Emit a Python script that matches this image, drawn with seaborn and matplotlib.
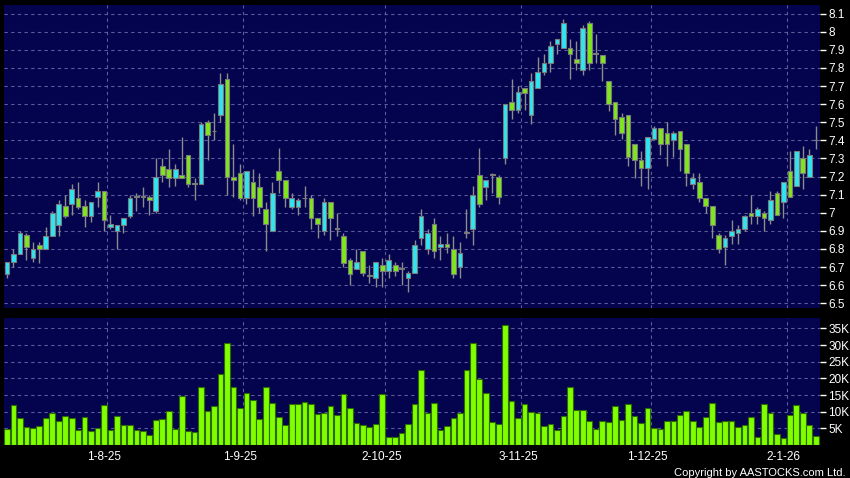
import matplotlib
matplotlib.use("Agg")
import matplotlib.pyplot as plt
import seaborn as sns
import numpy as np

# daily OHLC, 126 trading days (Jul 2025 - Jan 2026)
opens = [6.66, 6.73, 6.77, 6.88, 6.75, 6.82, 6.80, 6.87, 6.93, 7.04,
         7.05, 7.08, 7.04, 6.98, 7.09, 7.12, 6.92, 6.90, 6.93, 6.98,
         7.09, 7.09, 7.09, 7.01, 7.26, 7.24, 7.19, 7.21, 7.32, 7.16,
         7.16, 7.50, 7.45, 7.54, 7.74, 7.20, 7.22, 7.08, 7.17, 7.14,
         7.02, 6.90, 7.23, 7.18, 7.03, 7.03, 7.08, 7.08, 6.97, 6.90,
         7.06, 6.91, 6.87, 6.74, 6.69, 6.79, 6.65, 6.64, 6.71, 6.68,
         6.71, 6.69, 6.64, 6.67, 6.86, 6.80, 6.94, 6.81, 6.83, 6.80,
         6.70, 6.89, 6.91, 7.21, 7.14, 7.21, 7.20, 7.30, 7.61, 7.57,
         7.69, 7.54, 7.69, 7.78, 7.83, 7.93, 7.91, 7.91, 7.85, 7.79,
         8.05, 7.88, 7.87, 7.73, 7.61, 7.53, 7.54, 7.38, 7.29, 7.25,
         7.41, 7.47, 7.44, 7.40, 7.45, 7.38, 7.16, 7.17, 7.08, 7.04,
         6.88, 6.81, 6.87, 6.89, 6.91, 7.00, 6.98, 7.00, 6.96, 7.11,
         7.06, 7.23, 7.15, 7.30, 7.20, 7.40]
highs = [6.73, 6.80, 6.90, 6.89, 6.84, 6.84, 6.92, 7.01, 7.07, 7.10,
         7.16, 7.17, 7.07, 7.06, 7.17, 7.12, 6.99, 6.93, 6.97, 7.10,
         7.11, 7.14, 7.10, 7.30, 7.30, 7.35, 7.27, 7.42, 7.32, 7.19,
         7.50, 7.51, 7.55, 7.77, 7.77, 7.38, 7.27, 7.23, 7.24, 7.22,
         7.06, 7.17, 7.36, 7.18, 7.11, 7.08, 7.15, 7.10, 6.97, 7.08,
         7.06, 7.00, 6.89, 6.75, 6.80, 6.79, 6.71, 6.73, 6.75, 6.77,
         6.73, 6.73, 6.68, 6.85, 7.02, 6.91, 6.97, 6.87, 6.89, 6.87,
         6.84, 7.02, 7.15, 7.36, 7.18, 7.22, 7.21, 7.60, 7.74, 7.70,
         7.69, 7.77, 7.86, 7.88, 7.95, 7.96, 8.07, 7.96, 7.95, 8.04,
         8.06, 7.99, 7.87, 7.73, 7.61, 7.55, 7.54, 7.38, 7.34, 7.42,
         7.48, 7.47, 7.50, 7.45, 7.45, 7.38, 7.22, 7.22, 7.08, 7.04,
         6.89, 6.88, 6.96, 6.93, 6.99, 7.10, 7.03, 7.01, 7.12, 7.12,
         7.17, 7.34, 7.34, 7.37, 7.35, 7.48]
lows = [6.64, 6.70, 6.77, 6.74, 6.73, 6.72, 6.80, 6.87, 6.87, 6.97,
        6.99, 7.02, 6.92, 6.95, 7.03, 6.90, 6.91, 6.80, 6.89, 6.97,
        7.01, 7.03, 6.99, 7.00, 7.17, 7.14, 7.15, 7.19, 7.14, 7.07,
        7.16, 7.29, 7.40, 7.50, 7.10, 7.09, 7.07, 7.05, 6.98, 7.00,
        6.79, 6.90, 7.11, 7.03, 7.02, 6.99, 7.03, 6.91, 6.86, 6.88,
        6.85, 6.87, 6.70, 6.60, 6.69, 6.65, 6.61, 6.59, 6.59, 6.64,
        6.65, 6.60, 6.56, 6.67, 6.82, 6.77, 6.75, 6.74, 6.78, 6.64,
        6.64, 6.86, 6.82, 7.03, 7.07, 7.11, 7.05, 7.27, 7.52, 7.55,
        7.57, 7.49, 7.69, 7.76, 7.78, 7.88, 7.91, 7.74, 7.79, 7.76,
        7.79, 7.83, 7.73, 7.56, 7.43, 7.41, 7.26, 7.19, 7.15, 7.13,
        7.40, 7.32, 7.26, 7.31, 7.23, 7.15, 7.13, 7.06, 7.00, 6.86,
        6.78, 6.71, 6.83, 6.83, 6.90, 6.94, 6.94, 6.90, 6.94, 6.99,
        6.97, 7.09, 7.15, 7.13, 7.20, 7.35]
closes = [6.73, 6.77, 6.89, 6.81, 6.80, 6.80, 6.87, 7.00, 7.05, 6.98,
          7.13, 7.03, 6.98, 7.06, 7.12, 6.96, 6.94, 6.93, 6.97, 7.08,
          7.09, 7.09, 7.07, 7.20, 7.21, 7.19, 7.24, 7.19, 7.16, 7.16,
          7.49, 7.43, 7.45, 7.71, 7.20, 7.18, 7.08, 7.23, 7.08, 7.03,
          6.94, 7.11, 7.18, 7.08, 7.08, 7.07, 7.08, 6.97, 6.94, 7.06,
          6.97, 6.91, 6.72, 6.66, 6.73, 6.67, 6.65, 6.73, 6.68, 6.74,
          6.68, 6.69, 6.67, 6.82, 6.98, 6.89, 6.79, 6.83, 6.81, 6.66,
          6.78, 6.89, 7.10, 7.05, 7.18, 7.21, 7.09, 7.60, 7.57, 7.67,
          7.66, 7.73, 7.78, 7.83, 7.92, 7.96, 8.05, 7.88, 7.83, 8.02,
          7.83, 7.88, 7.83, 7.60, 7.52, 7.44, 7.31, 7.29, 7.25, 7.42,
          7.47, 7.38, 7.38, 7.44, 7.35, 7.22, 7.19, 7.08, 7.04, 6.93,
          6.80, 6.86, 6.90, 6.91, 6.98, 6.98, 7.02, 6.97, 7.07, 6.99,
          7.17, 7.09, 7.34, 7.22, 7.32, 7.40]
# volume in thousands of shares
volume_k = [4.8, 12.0, 8.0, 5.5, 5.2, 5.7, 8.0, 9.6, 7.2, 8.7,
            8.0, 4.6, 8.4, 4.1, 5.2, 12.1, 4.6, 8.7, 5.9, 6.1,
            4.5, 4.2, 3.0, 7.5, 7.9, 10.1, 4.9, 14.8, 4.2, 3.9,
            17.4, 10.1, 11.7, 21.2, 30.6, 17.4, 11.1, 15.6, 13.6, 7.9,
            17.3, 12.7, 8.4, 6.0, 12.3, 12.4, 12.8, 12.2, 9.2, 9.7,
            11.7, 8.9, 15.4, 11.2, 6.5, 6.0, 5.5, 6.2, 15.4, 2.4,
            2.3, 3.7, 6.2, 12.2, 22.5, 9.7, 12.5, 4.5, 5.8, 8.1,
            9.7, 22.6, 30.5, 19.8, 15.6, 6.9, 6.3, 35.9, 13.3, 8.1,
            12.3, 10.0, 9.6, 5.6, 6.3, 4.4, 8.6, 17.4, 10.5, 10.4,
            7.2, 4.7, 7.2, 6.9, 11.6, 7.6, 12.2, 8.7, 6.5, 11.1,
            5.0, 4.7, 7.3, 7.3, 9.0, 10.2, 7.2, 5.4, 8.3, 12.5,
            7.0, 7.2, 7.1, 5.5, 6.0, 8.4, 2.4, 12.4, 9.5, 3.4,
            2.0, 8.9, 12.1, 9.6, 5.9, 2.7]

date_labels = ["1-8-25", "1-9-25", "2-10-25", "3-11-25", "1-12-25", "2-1-26"]
date_index = [15, 36, 58, 79, 99, 120]
price_ticks = [8.1, 8.0, 7.9, 7.8, 7.7, 7.6, 7.5, 7.4, 7.3, 7.2, 7.1, 7.0,
               6.9, 6.8, 6.7, 6.6, 6.5]
volume_ticks = [5, 10, 15, 20, 25, 30, 35]

BG = "#03034e"
UP = "#2de6f2"
DOWN = "#7fe61c"
FLAT = "#9a9a9a"
GRID = "#5c5c9a"

sns.set_style("dark")
plt.rcParams["font.family"] = ["Liberation Sans", "DejaVu Sans"]

o = np.array(opens)
h = np.array(highs)
l = np.array(lows)
c = np.array(closes)
idx = np.arange(len(o))

fig = plt.figure(figsize=(8.5, 4.78), dpi=100, facecolor="black")
ax = fig.add_axes([4 / 850, 1 - 308 / 478, 816 / 850, 303 / 478])
axv = fig.add_axes([4 / 850, 1 - 445 / 478, 816 / 850, 127 / 478])

for a in (ax, axv):
    a.set_facecolor(BG)
    a.grid(False)
    for s in a.spines.values():
        s.set_visible(False)
    for d in date_index:
        a.axvline(d + 0.5, color=GRID, lw=0.8, ls=(0, (3, 3)), zorder=0)

# candles
colors = np.where(c > o, UP, np.where(c < o, DOWN, FLAT))
ax.vlines(idx, l, h, color="#8c8c8c", lw=1, zorder=2)
body = np.abs(c - o)
body = np.where(body < 0.004, 0.004, body)
ax.bar(idx, body, bottom=np.minimum(o, c), width=0.72, color=colors,
       edgecolor="#7a7a7a", linewidth=0.8, zorder=3)

for t in price_ticks:
    ax.axhline(t, color=GRID, lw=0.8, ls=(0, (3, 3)), zorder=0)
ax.set_ylim(6.474, 8.148)
ax.set_xlim(-0.46, 125.66)
ax.yaxis.tick_right()
ax.set_yticks(price_ticks)
ax.set_yticklabels([f"{t:g}" for t in price_ticks])
ax.set_xticks([])
ax.tick_params(axis="y", colors="white", labelsize=8.5, length=4, width=1, pad=2)

# volume
sns.barplot(x=idx, y=volume_k, native_scale=True, color="#7fff00", saturation=1,
            width=0.88, edgecolor="#2f6a00", linewidth=0.8, ax=axv, zorder=3)
for t in volume_ticks:
    axv.axhline(t, color=GRID, lw=0.8, ls=(0, (3, 3)), zorder=0)
axv.set_ylim(0, 38.1)
axv.set_xlim(-0.46, 125.66)
axv.yaxis.tick_right()
axv.set_yticks(volume_ticks)
axv.set_yticklabels([f"{t}K" for t in volume_ticks])
axv.set_xticks(date_index)
axv.set_xticklabels(date_labels)
axv.set_xlabel("")
axv.set_ylabel("")
axv.tick_params(axis="y", colors="white", labelsize=8.5, length=4, width=1, pad=2)
axv.tick_params(axis="x", colors="white", labelsize=8.5, length=3, width=1, pad=1.5)
for t in axv.get_xticklines():
    t.set_color("#999999")

fig.text(0.995, 0.001, "Copyright by AASTOCKS.com Ltd.", color="white",
         fontsize=8, ha="right", va="bottom")

fig.savefig("out.png", dpi=100, facecolor="black")
